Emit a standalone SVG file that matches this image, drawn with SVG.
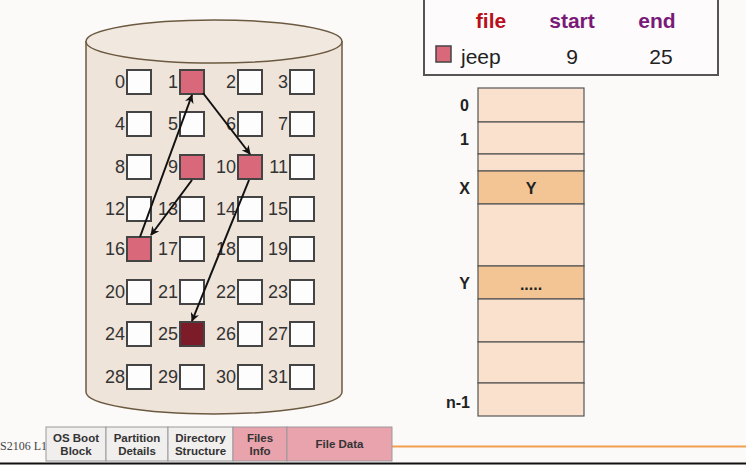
<svg xmlns="http://www.w3.org/2000/svg" width="746" height="465" viewBox="0 0 746 465">
<defs>
<style>
.num{font-family:"Liberation Sans",Arial,sans-serif;font-size:18px;fill:#333;text-anchor:end}
.blk{fill:#fdfdfd;stroke:#444;stroke-width:2}
.used{fill:#d9687a;stroke:#444;stroke-width:2}
.last{fill:#7b1c28;stroke:#444;stroke-width:2}
.arr{stroke:#111;stroke-width:2;fill:none;marker-end:url(#ah)}
.lbl{font-family:"Liberation Sans",Arial,sans-serif;font-size:16px;font-weight:bold;fill:#222}
.row{fill:#f9e1cd;stroke:#555;stroke-width:1.2}
.hi{fill:#f3c594;stroke:#555;stroke-width:1.2}
.bar{font-family:"Liberation Sans",Arial,sans-serif;font-size:11.5px;font-weight:bold;fill:#333;text-anchor:middle}
.gbox{fill:#f1eeee;stroke:#999;stroke-width:1}
.pbox{fill:#e8a3ad;stroke:#999;stroke-width:1}
.th{font-family:"Liberation Sans",Arial,sans-serif;font-size:21px;font-weight:bold;text-anchor:middle}
.td{font-family:"Liberation Sans",Arial,sans-serif;font-size:21px;fill:#222}
</style>
<marker id="ah" viewBox="0 0 10 10" refX="9" refY="5" markerWidth="10" markerHeight="9" orient="auto" markerUnits="userSpaceOnUse"><path d="M0,0 L10,5 L0,10 L3,5 z" fill="#111"/></marker>
</defs>
<rect width="746" height="465" fill="#fcf9f9"/>

<g id="disk">
<path d="M86,41 L86,392 A128,22 0 0 0 342,392 L342,41" fill="#efe4da" stroke="#6b5a40" stroke-width="1.5"/>
<ellipse cx="214" cy="41.5" rx="128" ry="21.5" fill="#f1e8e0" stroke="#6b5a40" stroke-width="1.5"/>
</g>

<g id="blocks">
<g id="b0"><rect class="blk" x="127" y="70" width="24" height="24"/><text class="num" x="125" y="88">0</text></g>
<g id="b1"><rect class="used" x="180" y="70" width="24" height="24"/><text class="num" x="178" y="88">1</text></g>
<g id="b2"><rect class="blk" x="238" y="70" width="24" height="24"/><text class="num" x="236" y="88">2</text></g>
<g id="b3"><rect class="blk" x="290" y="70" width="24" height="24"/><text class="num" x="288" y="88">3</text></g>
<g id="b4"><rect class="blk" x="127" y="112" width="24" height="24"/><text class="num" x="125" y="130">4</text></g>
<g id="b5"><rect class="blk" x="180" y="112" width="24" height="24"/><text class="num" x="178" y="130">5</text></g>
<g id="b6"><rect class="blk" x="238" y="112" width="24" height="24"/><text class="num" x="236" y="130">6</text></g>
<g id="b7"><rect class="blk" x="290" y="112" width="24" height="24"/><text class="num" x="288" y="130">7</text></g>
<g id="b8"><rect class="blk" x="127" y="155" width="24" height="24"/><text class="num" x="125" y="173">8</text></g>
<g id="b9"><rect class="used" x="180" y="155" width="24" height="24"/><text class="num" x="178" y="173">9</text></g>
<g id="b10"><rect class="used" x="238" y="155" width="24" height="24"/><text class="num" x="236" y="173">10</text></g>
<g id="b11"><rect class="blk" x="290" y="155" width="24" height="24"/><text class="num" x="288" y="173">11</text></g>
<g id="b12"><rect class="blk" x="127" y="197" width="24" height="24"/><text class="num" x="125" y="215">12</text></g>
<g id="b13"><rect class="blk" x="180" y="197" width="24" height="24"/><text class="num" x="178" y="215">13</text></g>
<g id="b14"><rect class="blk" x="238" y="197" width="24" height="24"/><text class="num" x="236" y="215">14</text></g>
<g id="b15"><rect class="blk" x="290" y="197" width="24" height="24"/><text class="num" x="288" y="215">15</text></g>
<g id="b16"><rect class="used" x="127" y="237" width="24" height="24"/><text class="num" x="125" y="255">16</text></g>
<g id="b17"><rect class="blk" x="180" y="237" width="24" height="24"/><text class="num" x="178" y="255">17</text></g>
<g id="b18"><rect class="blk" x="238" y="237" width="24" height="24"/><text class="num" x="236" y="255">18</text></g>
<g id="b19"><rect class="blk" x="290" y="237" width="24" height="24"/><text class="num" x="288" y="255">19</text></g>
<g id="b20"><rect class="blk" x="127" y="280" width="24" height="24"/><text class="num" x="125" y="298">20</text></g>
<g id="b21"><rect class="blk" x="180" y="280" width="24" height="24"/><text class="num" x="178" y="298">21</text></g>
<g id="b22"><rect class="blk" x="238" y="280" width="24" height="24"/><text class="num" x="236" y="298">22</text></g>
<g id="b23"><rect class="blk" x="290" y="280" width="24" height="24"/><text class="num" x="288" y="298">23</text></g>
<g id="b24"><rect class="blk" x="127" y="322" width="24" height="24"/><text class="num" x="125" y="340">24</text></g>
<g id="b25"><rect class="last" x="180" y="322" width="24" height="24"/><text class="num" x="178" y="340">25</text></g>
<g id="b26"><rect class="blk" x="238" y="322" width="24" height="24"/><text class="num" x="236" y="340">26</text></g>
<g id="b27"><rect class="blk" x="290" y="322" width="24" height="24"/><text class="num" x="288" y="340">27</text></g>
<g id="b28"><rect class="blk" x="127" y="365" width="24" height="24"/><text class="num" x="125" y="383">28</text></g>
<g id="b29"><rect class="blk" x="180" y="365" width="24" height="24"/><text class="num" x="178" y="383">29</text></g>
<g id="b30"><rect class="blk" x="238" y="365" width="24" height="24"/><text class="num" x="236" y="383">30</text></g>
<g id="b31"><rect class="blk" x="290" y="365" width="24" height="24"/><text class="num" x="288" y="383">31</text></g>
</g>

<g id="connectors">
<line class="arr" x1="192" y1="180" x2="151" y2="235"/>
<line class="arr" x1="140" y1="237" x2="192" y2="95"/>
<line class="arr" x1="203" y1="93" x2="250" y2="154"/>
<line class="arr" x1="249" y1="180" x2="192" y2="321"/>
</g>

<g id="table">
<rect x="424" y="-5" width="294" height="80" fill="#fdfbfb" stroke="#555" stroke-width="2"/>
<text class="th" x="491" y="28" fill="#b8101c">file</text>
<text class="th" x="572" y="28" fill="#7a1a78">start</text>
<text class="th" x="657" y="28" fill="#7a1a78">end</text>
<rect x="436" y="46" width="15" height="16" fill="#d9687a" stroke="#444" stroke-width="1.5"/>
<text class="td" x="461" y="64" text-anchor="start">jeep</text>
<text class="td" x="572" y="64" text-anchor="middle">9</text>
<text class="td" x="661" y="64" text-anchor="middle">25</text>
</g>

<g id="fat">
<rect class="row" x="478" y="88" width="106" height="34"/>
<rect class="row" x="478" y="122" width="106" height="32"/>
<rect class="row" x="478" y="154" width="106" height="17"/>
<rect class="hi" x="478" y="171" width="106" height="33"/>
<rect class="row" x="478" y="204" width="106" height="62"/>
<rect class="hi" x="478" y="266" width="106" height="33"/>
<rect class="row" x="478" y="299" width="106" height="43"/>
<rect class="row" x="478" y="342" width="106" height="41"/>
<rect class="row" x="478" y="383" width="106" height="33"/>
<text class="lbl" x="531" y="194" text-anchor="middle">Y</text>
<text class="lbl" x="531" y="290" text-anchor="middle">.....</text>
<text class="lbl" x="469" y="111" text-anchor="end">0</text>
<text class="lbl" x="469" y="145" text-anchor="end">1</text>
<text class="lbl" x="470" y="194" text-anchor="end">X</text>
<text class="lbl" x="470" y="289" text-anchor="end">Y</text>
<text class="lbl" x="470" y="408" text-anchor="end">n-1</text>
</g>

<g id="footer">
<line x1="392" y1="446.5" x2="746" y2="446.5" stroke="#f0a050" stroke-width="2"/>
<text x="0" y="450" font-family="Liberation Serif,Times New Roman,serif" font-size="12" fill="#444">S2106 L11</text>
<g id="os"><rect class="gbox" x="46" y="427" width="60" height="34"/><text class="bar" x="76" y="442">OS Boot</text><text class="bar" x="76" y="455">Block</text></g>
<g id="part"><rect class="gbox" x="106" y="427" width="62" height="34"/><text class="bar" x="137" y="442">Partition</text><text class="bar" x="137" y="455">Details</text></g>
<g id="dir"><rect class="gbox" x="168" y="427" width="65" height="34"/><text class="bar" x="200.5" y="442">Directory</text><text class="bar" x="200.5" y="455">Structure</text></g>
<g id="finfo"><rect class="pbox" x="233" y="427" width="54" height="34"/><text class="bar" x="260" y="442">Files</text><text class="bar" x="260" y="455">Info</text></g>
<g id="fdata"><rect class="pbox" x="287" y="427" width="105" height="34"/><text class="bar" x="339.5" y="448">File Data</text></g>
<line x1="0" y1="463.5" x2="746" y2="463.5" stroke="#111" stroke-width="2"/>
</g>
</svg>
